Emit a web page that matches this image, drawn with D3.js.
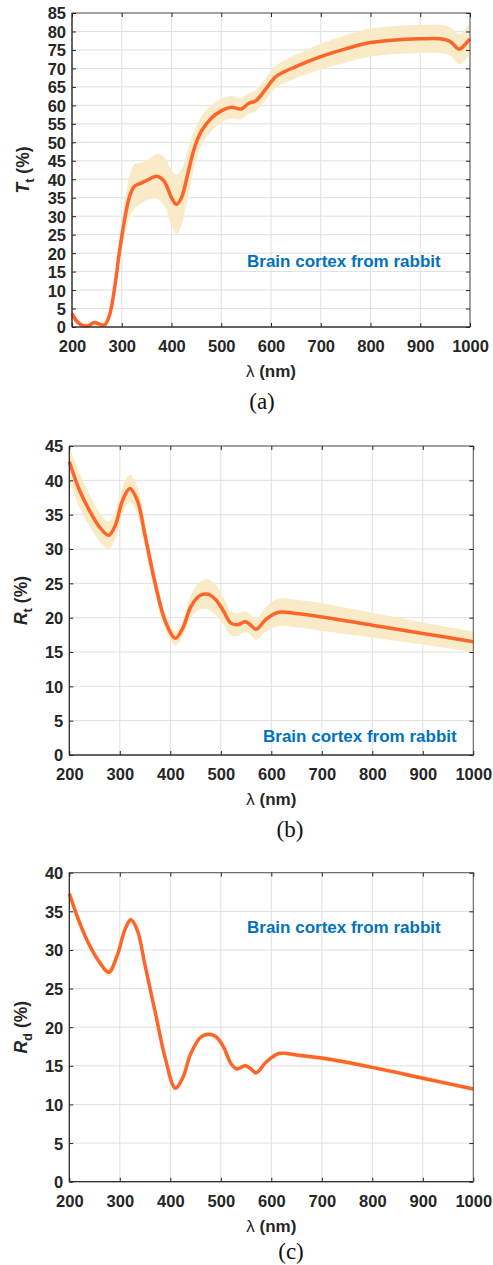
<!DOCTYPE html>
<html>
<head>
<meta charset="utf-8">
<script src="https://cdn.jsdelivr.net/npm/d3@7"></script>
<style>
  body { margin: 0; background: #fff; }
  svg { display: block; }
  text { font-family: "Liberation Sans", Arimo, Arial, Helvetica, sans-serif; fill: #262626; }
</style>
</head>
<body>
<svg id="chart" width="493" height="1265"></svg>
<script>
// (a) total transmittance
const wlA = [200,210,220,232,245,255,265,275,285,295,305,315,325,340,355,370,385,400,410,420,432,445,460,480,500,520,540,555,570,590,610,650,700,750,800,850,900,940,960,978,990,1000];
const tA  = [3.7,1.5,0.5,0.3,1.2,0.8,0.5,3,10,20,28.5,35,38,39,40,40.8,39.5,35,33.2,35,41,48,53,56.5,58.5,59.5,59,60.5,61.3,64.5,67.8,70.5,73.2,75.3,77,77.7,78,78,77.3,75.2,76.5,78];
const sdA = [0.5,0.5,0.5,0.5,0.5,0.5,0.5,1,2,3,4.5,5.5,6,5.5,5.5,6,6.5,7.5,8,7.5,6.5,5,4,3.5,3.2,3,2.8,2.8,2.8,3,3,3.2,3.5,3.7,3.8,3.8,3.8,3.8,3.8,4,4.2,4.3];

// (b) total reflectance
const wlB = [200,220,240,260,278,292,305,320,335,350,370,390,410,425,440,458,475,490,505,520,535,548,558,570,590,615,650,700,800,900,1000];
const rB  = [42.7,38.6,35.6,33.2,32,33.6,37,38.8,37,32,25,19.5,17,18.5,21.5,23.2,23.4,22.6,21,19.2,19,19.4,19,18.3,19.8,20.8,20.6,20.1,18.9,17.7,16.5];
const sdB = [2.7,2.5,2.3,2.1,2,2,2,2,2,1.8,1.5,1.2,1,1.2,1.6,2,2.2,2.2,2,1.8,1.6,1.5,1.5,1.5,1.8,2,2,2,1.8,1.6,1.5];

// (c) diffuse reflectance
const wlC = [200,220,240,260,278,295,310,322,335,350,370,390,410,425,440,460,475,490,505,520,532,548,558,570,590,615,650,700,800,900,1000];
const rC  = [37.3,33.6,30.6,28.4,27.1,29.3,32.6,33.9,32.5,28,22,16,12.1,13.5,16.5,18.7,19.1,18.8,17.5,15.3,14.6,15,14.7,14.1,15.5,16.6,16.4,16,14.8,13.4,12];
const sdC = [0.8,0.6,0.5,0.5,0.5,0.4,0.4,0.4,0.4,0.3,0.3,0.3,0.3,0.3,0.3,0.3,0.3,0.3,0.3,0.3,0.3,0.3,0.3,0.3,0.3,0.3,0.3,0.3,0.3,0.3,0.3];

const xTicks = [200,300,400,500,600,700,800,900,1000];
const yLabels = [["T", "t"], ["R", "t"], ["R", "d"]];
const panelTags = ["(a)", "(b)", "(c)"];
const note = "Brain cortex from rabbit";

const panels = [
  { wl: wlA, v: tA, sd: sdA, ymax: 85, left: 72, right: 470, top: 13, bottom: 327, tagX: 262, tagY: 409, noteX: 247, noteY: 267, labX: 29 },
  { wl: wlB, v: rB, sd: sdB, ymax: 45, left: 69.3, right: 473.3, top: 446, bottom: 755, tagX: 290, tagY: 837, noteX: 263, noteY: 742, labX: 27 },
  { wl: wlC, v: rC, sd: sdC, ymax: 40, left: 69.3, right: 473.3, top: 872.7, bottom: 1181.7, tagX: 291, tagY: 1259, noteX: 247, noteY: 933, labX: 27 }
];

const svg = d3.select("#chart");
const sans = "'Liberation Sans', Arimo, Arial, Helvetica, sans-serif";

panels.forEach((p, k) => {
  const x = d3.scaleLinear().domain([200, 1000]).range([p.left, p.right]);
  const y = d3.scaleLinear().domain([0, p.ymax]).range([p.bottom, p.top]);
  const yTicks = d3.range(0, p.ymax + 1, 5);
  const g = svg.append("g");

  // grid
  g.selectAll(".gx").data(xTicks).enter().append("line")
    .attr("x1", d => x(d)).attr("x2", d => x(d))
    .attr("y1", p.top).attr("y2", p.bottom)
    .attr("stroke", "#e0e0e0").attr("stroke-width", 1);
  g.selectAll(".gy").data(yTicks).enter().append("line")
    .attr("x1", p.left).attr("x2", p.right)
    .attr("y1", d => y(d)).attr("y2", d => y(d))
    .attr("stroke", "#e0e0e0").attr("stroke-width", 1);

  const rows = p.wl.map((w, i) => ({ w: w, v: p.v[i], sd: p.sd[i] }));

  // std band
  const band = d3.area()
    .x(d => x(d.w))
    .y0(d => y(Math.max(0, d.v - d.sd)))
    .y1(d => y(Math.min(p.ymax, d.v + d.sd)))
    .curve(d3.curveCatmullRom.alpha(0.5));
  g.append("path").datum(rows).attr("d", band).attr("fill", "#faebc8");

  // mean curve
  const line = d3.line().x(d => x(d.w)).y(d => y(d.v)).curve(d3.curveCatmullRom.alpha(0.5));
  g.append("path").datum(rows).attr("d", line)
    .attr("fill", "none").attr("stroke", "#ff6428").attr("stroke-width", 3.5)
    .attr("stroke-linejoin", "round");

  // box
  g.append("rect").attr("x", p.left).attr("y", p.top)
    .attr("width", p.right - p.left).attr("height", p.bottom - p.top)
    .attr("fill", "none").attr("stroke", "#555").attr("stroke-width", 1);
  g.append("line").attr("x1", p.left).attr("x2", p.left).attr("y1", p.top).attr("y2", p.bottom)
    .attr("stroke", "#262626");
  g.append("line").attr("x1", p.left).attr("x2", p.right).attr("y1", p.bottom).attr("y2", p.bottom)
    .attr("stroke", "#262626");

  // axes with inward ticks
  const ax = g.append("g").attr("transform", "translate(0," + p.bottom + ")")
    .call(d3.axisBottom(x).tickValues(xTicks).tickSize(-4).tickPadding(8).tickFormat(d3.format("d")));
  const ay = g.append("g").attr("transform", "translate(" + p.left + ",0)")
    .call(d3.axisLeft(y).tickValues(yTicks).tickSize(-4).tickPadding(6));
  g.append("g").attr("transform", "translate(0," + p.top + ")")
    .call(d3.axisTop(x).tickValues(xTicks).tickSize(-4).tickFormat(""));
  g.append("g").attr("transform", "translate(" + p.right + ",0)")
    .call(d3.axisRight(y).tickValues(yTicks).tickSize(-4).tickFormat(""));
  g.selectAll(".domain").remove();
  g.selectAll(".tick line").attr("stroke", "#262626");
  [ax, ay].forEach(a => a.selectAll("text")
    .attr("font-family", sans)
    .attr("font-size", "16.5px").attr("font-weight", "bold").attr("fill", "#262626"));
  ax.selectAll("text").attr("dy", null).attr("y", 25);
  ay.selectAll("text").attr("dy", "0.36em");

  // x label
  const xl = g.append("text").attr("x", (p.left + p.right) / 2).attr("y", p.bottom + 50)
    .attr("text-anchor", "middle").style("font-size", "17px").style("font-weight", "bold");
  xl.append("tspan").text("λ").style("font-weight", "normal");
  xl.append("tspan").text(" (nm)");

  // y label
  const yl = g.append("text")
    .attr("transform", "translate(" + p.labX + "," + ((p.top + p.bottom) / 2) + ") rotate(-90)")
    .attr("text-anchor", "middle").style("font-size", "17.5px").style("font-weight", "bold");
  yl.append("tspan").text(yLabels[k][0]).style("font-style", "italic");
  yl.append("tspan").text(yLabels[k][1]).attr("dy", 5).style("font-size", "13px");
  yl.append("tspan").text(" (%)").attr("dy", -5);

  // note
  g.append("text").attr("x", p.noteX).attr("y", p.noteY)
    .style("font-size", "17px").style("font-weight", "bold").style("fill", "#0072bd")
    .text(note);

  // panel tag
  g.append("text").attr("x", p.tagX).attr("y", p.tagY)
    .attr("text-anchor", "middle")
    .style("font-family", "'Liberation Serif', 'Times New Roman', serif")
    .style("font-size", "23px").style("fill", "#111")
    .text(panelTags[k]);
});
</script>
</body>
</html>
